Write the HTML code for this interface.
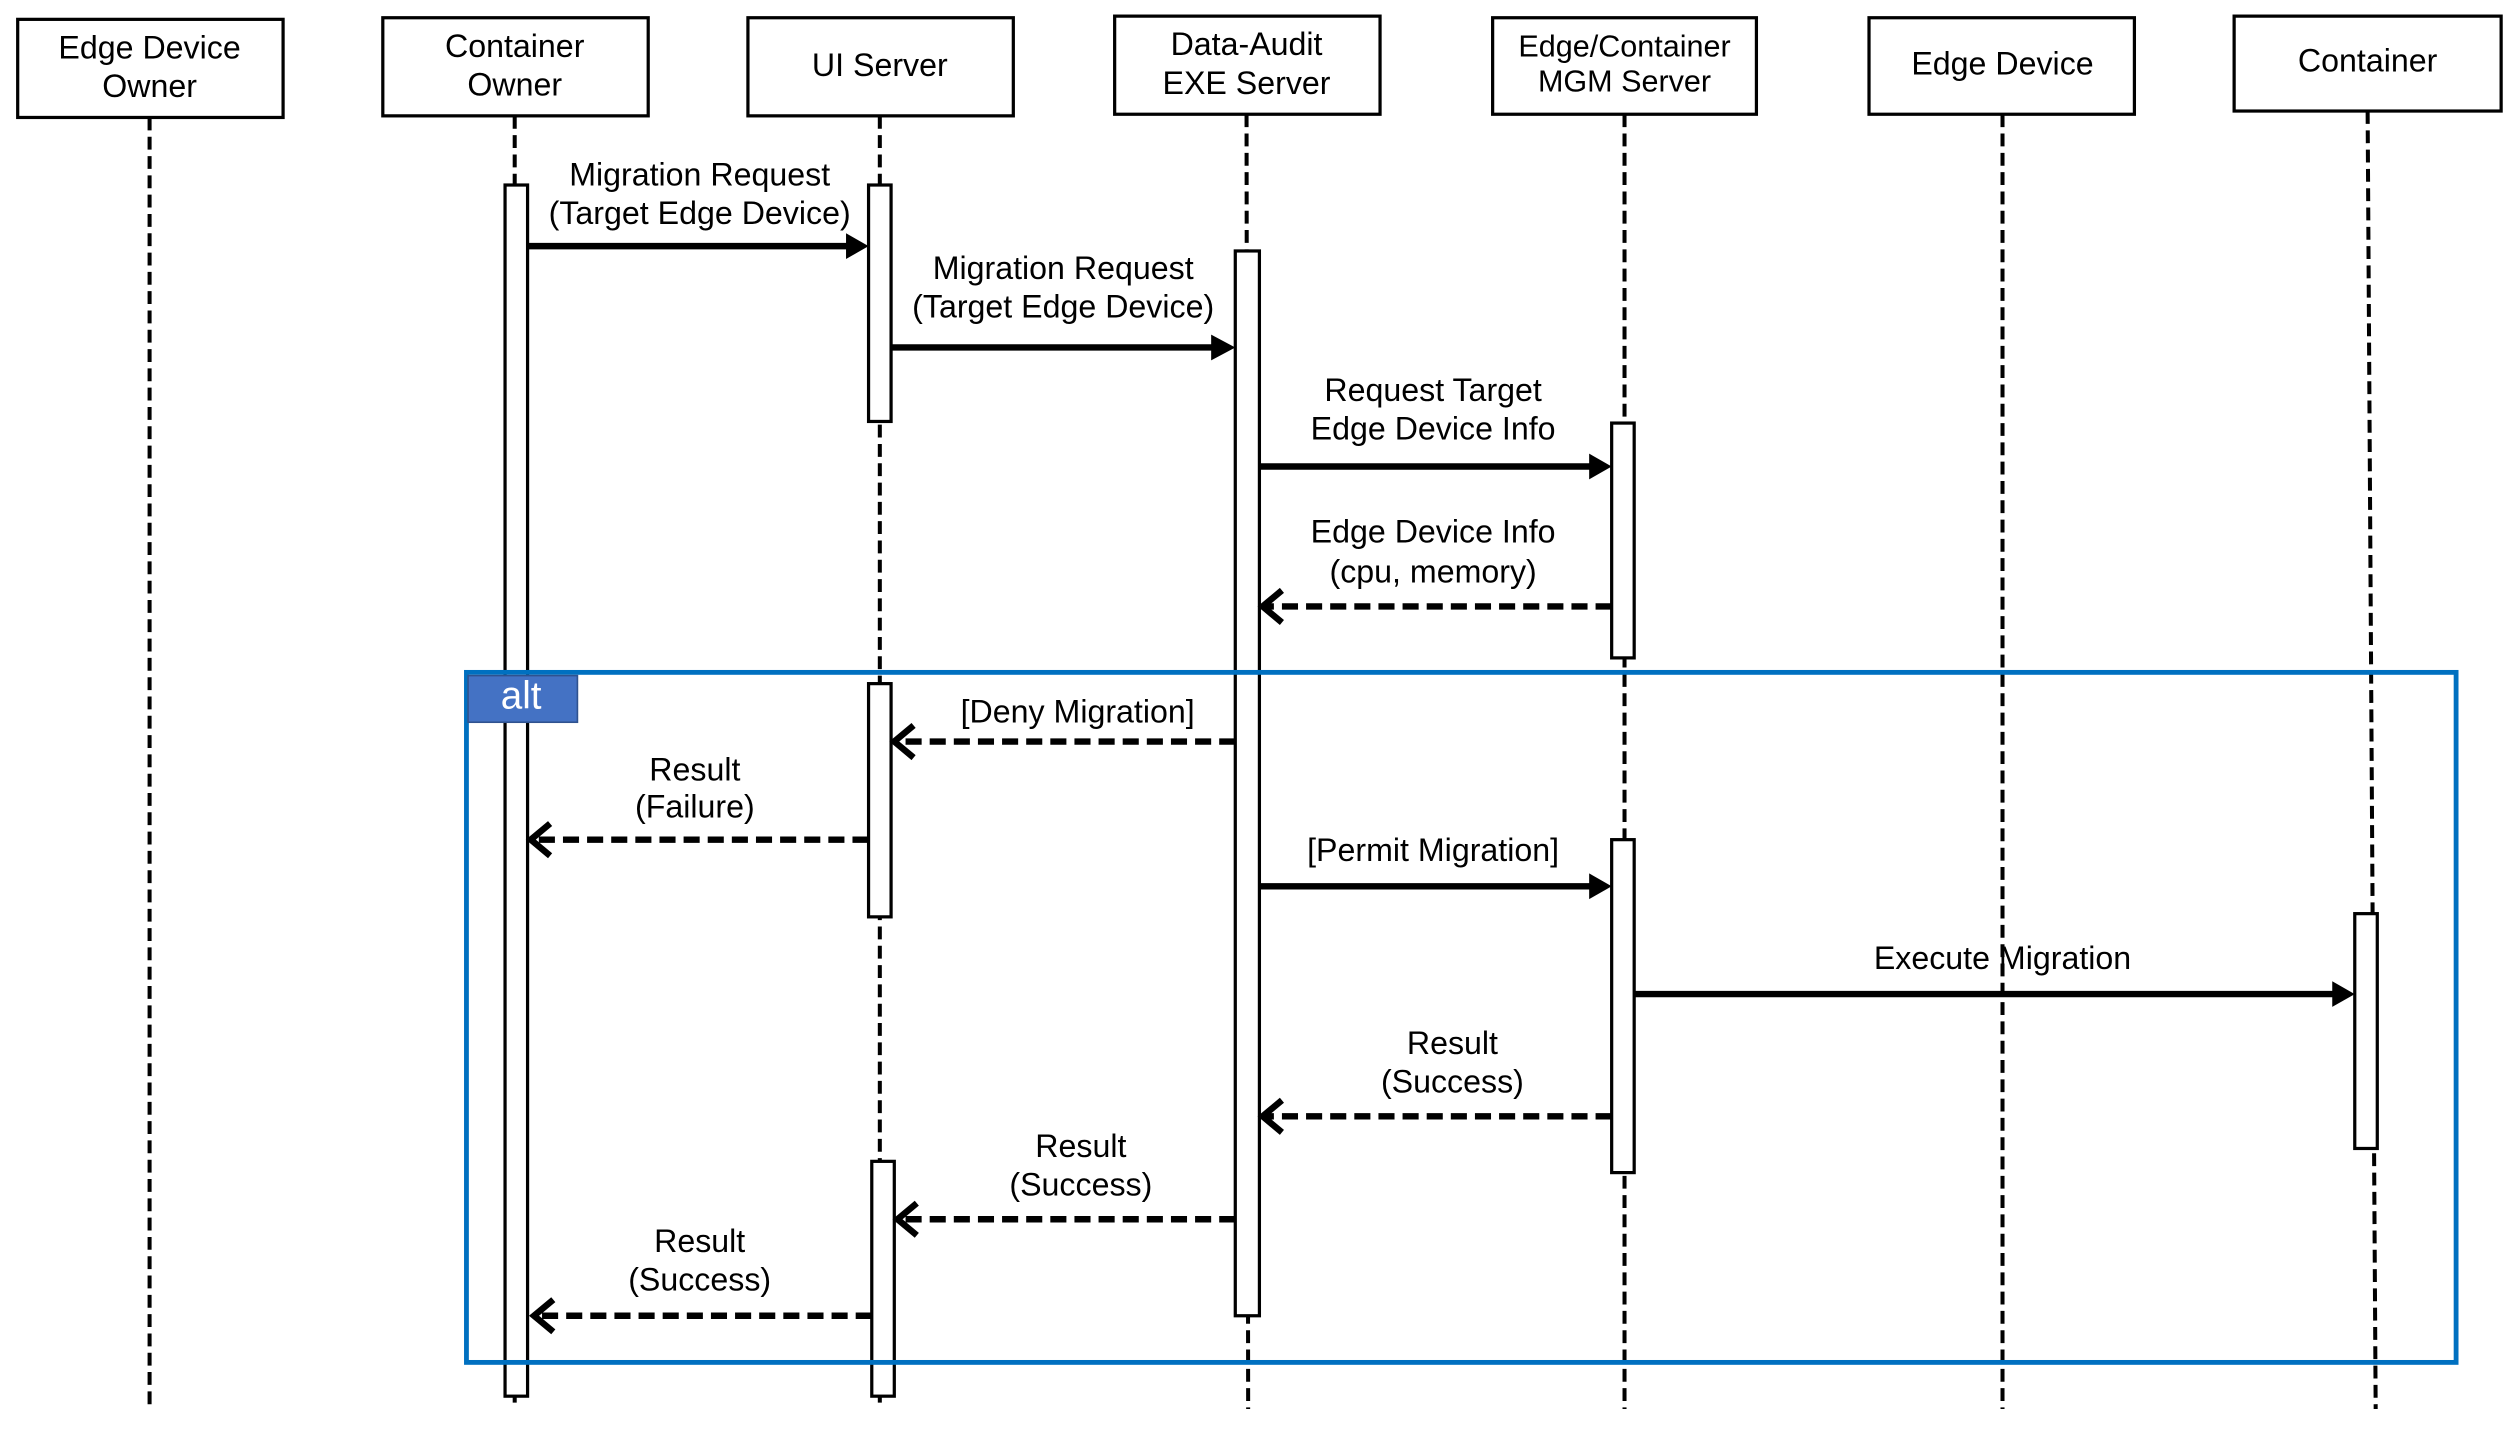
<!DOCTYPE html>
<html><head><meta charset="utf-8"><style>html,body{margin:0;padding:0;background:#fff;}svg{display:block;}</style></head>
<body>
<svg width="2514" height="1430" viewBox="0 0 1563 889" xmlns="http://www.w3.org/2000/svg" font-family="Liberation Sans, sans-serif" font-size="20">
<g fill="#fff" stroke="#000" stroke-width="2">
<rect x="11" y="12" width="165" height="61"/>
<rect x="238" y="11" width="165" height="61"/>
<rect x="465" y="11" width="165" height="61"/>
<rect x="693" y="10" width="165" height="61"/>
<rect x="928" y="11" width="164" height="60"/>
<rect x="1162" y="11" width="165" height="60"/>
<rect x="1389" y="10" width="166" height="59"/>
</g>
<g stroke="#000" stroke-width="2.5" stroke-dasharray="8,4">
<line x1="93" y1="73" x2="93" y2="876"/>
<line x1="320" y1="72" x2="320" y2="876"/>
<line x1="547" y1="72" x2="547" y2="876"/>
<line x1="775" y1="71" x2="776" y2="876"/>
<line x1="1010" y1="71" x2="1010" y2="876"/>
<line x1="1245" y1="71" x2="1245" y2="876"/>
<line x1="1472" y1="69" x2="1477" y2="876"/>
</g>
<g fill="#000" text-anchor="middle" dominant-baseline="middle">
<text x="93" y="31">Edge Device</text><text x="93" y="55">Owner</text>
<text x="320" y="30">Container</text><text x="320" y="54">Owner</text>
<text x="547" y="42">UI Server</text>
<text x="775" y="29">Data-Audit</text><text x="775" y="53">EXE Server</text>
<text x="1010" y="30" font-size="19">Edge/Container</text><text x="1010" y="52" font-size="19">MGM Server</text>
<text x="1245" y="41">Edge Device</text>
<text x="1472" y="39">Container</text>
</g>
<g fill="#fff" stroke="#000" stroke-width="2">
<rect x="314" y="115" width="14" height="753"/>
<rect x="540" y="115" width="14" height="147"/>
<rect x="540" y="425" width="14" height="145"/>
<rect x="542" y="722" width="14" height="146"/>
<rect x="768" y="156" width="15" height="662"/>
<rect x="1002" y="263" width="14" height="146"/>
<rect x="1002" y="522" width="14" height="207"/>
<rect x="1464" y="568" width="14" height="146"/>
</g>
<rect x="290" y="418" width="1237" height="429" fill="none" stroke="#0070c0" stroke-width="3"/>
<rect x="291" y="420" width="68" height="29" fill="#4472c4" stroke="#2f528f" stroke-width="1"/>
<text x="324" y="434" fill="#fff" font-size="24" text-anchor="middle" dominant-baseline="middle">alt</text>
<g stroke="#000" stroke-width="4" fill="none">
<line x1="328" y1="153" x2="528" y2="153"/>
<line x1="554" y1="216" x2="755" y2="216"/>
<line x1="783" y1="290" x2="990" y2="290"/>
<line x1="783" y1="551" x2="990" y2="551"/>
<line x1="1016" y1="618" x2="1452" y2="618"/>
</g>
<g fill="#000">
<path d="M526,145 L540,153 L526,161 z"/>
<path d="M753,208 L768,216 L753,224 z"/>
<path d="M988,282 L1002,290 L988,298 z"/>
<path d="M988,543 L1002,551 L988,559 z"/>
<path d="M1450,610 L1464,618 L1450,626 z"/>
</g>
<g stroke="#000" stroke-width="4" fill="none" stroke-dasharray="10,5">
<line x1="1002" y1="377" x2="786" y2="377"/>
<line x1="768" y1="461" x2="557" y2="461"/>
<line x1="540" y1="522" x2="331" y2="522"/>
<line x1="1002" y1="694" x2="786" y2="694"/>
<line x1="768" y1="758" x2="559" y2="758"/>
<line x1="542" y1="818" x2="333" y2="818"/>
</g>
<g stroke="#000" stroke-width="4" fill="none">
<polyline points="797,367 785,377 797,387"/>
<polyline points="568,451 556,461 568,471"/>
<polyline points="342,512 330,522 342,532"/>
<polyline points="797,684 785,694 797,704"/>
<polyline points="570,748 558,758 570,768"/>
<polyline points="344,808 332,818 344,828"/>
</g>
<g fill="#000" text-anchor="middle" dominant-baseline="middle">
<text x="435" y="110">Migration Request</text><text x="435" y="134">(Target Edge Device)</text>
<text x="661" y="168">Migration Request</text><text x="661" y="192">(Target Edge Device)</text>
<text x="891" y="244">Request Target</text><text x="891" y="268">Edge Device Info</text>
<text x="891" y="332">Edge Device Info</text><text x="891" y="357">(cpu, memory)</text>
<text x="670" y="444">[Deny Migration]</text>
<text x="432" y="480">Result</text><text x="432" y="503">(Failure)</text>
<text x="891" y="530">[Permit Migration]</text>
<text x="1245" y="597">Execute Migration</text>
<text x="903" y="650">Result</text><text x="903" y="674">(Success)</text>
<text x="672" y="714">Result</text><text x="672" y="738">(Success)</text>
<text x="435" y="773">Result</text><text x="435" y="797">(Success)</text>
</g>
</svg>
</body></html>
